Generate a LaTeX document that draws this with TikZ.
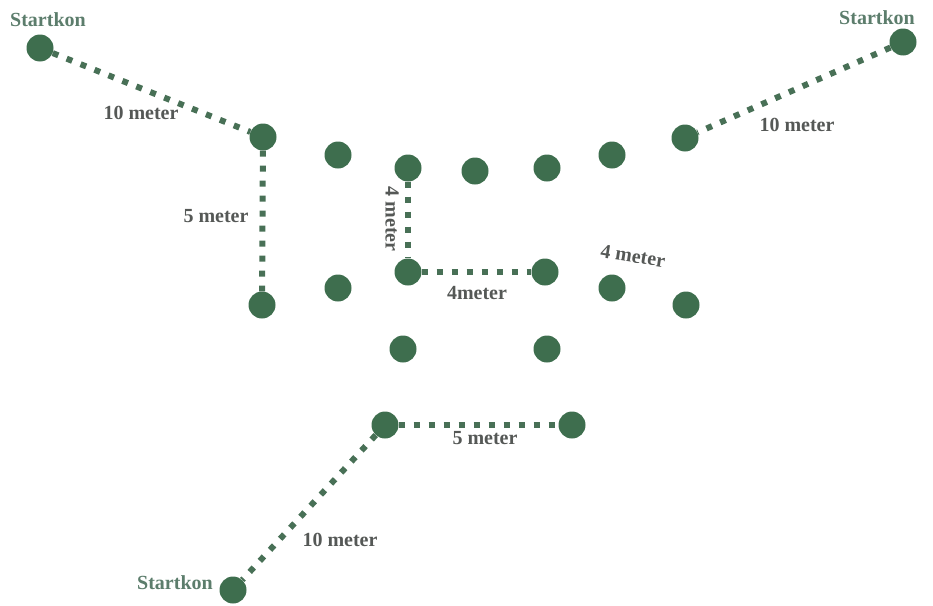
\documentclass[tikz,border=0pt]{standalone}
\usepackage{fontspec}
\setmainfont{Liberation Serif}
\definecolor{dotgreen}{RGB}{62,110,78}
\definecolor{linegreen}{RGB}{72,112,86}
\definecolor{labgray}{RGB}{85,88,86}
\definecolor{startgreen}{RGB}{92,125,108}
\begin{document}
\begin{tikzpicture}[x=1pt,y=-1pt,
  cone/.style={circle,fill=dotgreen,minimum size=27pt,inner sep=0pt},
  dotline/.style={draw=linegreen,line width=6pt,dash pattern=on 6pt off 9pt},
  lab/.style={font=\fontsize{20}{22}\selectfont\bfseries,text=labgray,inner sep=0pt},
  startlab/.style={font=\fontsize{20}{22}\selectfont\bfseries,text=startgreen,inner sep=0pt}]
\useasboundingbox (0,0) rectangle (933,605);
% start cones
\node[cone] (s1) at (40,48) {};
\node[cone] (s2) at (903,42) {};
\node[cone] (s3) at (233,590) {};
% upper row
\node[cone] (a) at (263,137) {};
\node[cone] (b) at (338,155) {};
\node[cone] (c) at (408,168) {};
\node[cone] (d) at (475,171) {};
\node[cone] (e) at (547,168) {};
\node[cone] (f) at (612,155) {};
\node[cone] (g) at (685,138) {};
% middle row
\node[cone] (h) at (262,305) {};
\node[cone] (i) at (338,288) {};
\node[cone] (j) at (408,272) {};
\node[cone] (k) at (545,272) {};
\node[cone] (l) at (612,288) {};
\node[cone] (m) at (686,305) {};
% lower
\node[cone] (n) at (403,349) {};
\node[cone] (o) at (547,349) {};
\node[cone] (p) at (385,425) {};
\node[cone] (q) at (572,425) {};
% connectors
\draw[dotline] (s1) -- (a);
\draw[dotline] (a) -- (h);
\draw[dotline] (s2) -- (g);
\draw[dotline] (c) -- (j);
\draw[dotline] (j) -- (k);
\draw[dotline] (p) -- (q);
\draw[dotline] (p) -- (s3);
% labels
\node[startlab] (t1) at (48,20) {Startkon};
\node[startlab] (t2) at (877,18) {Startkon};
\node[startlab] (t3) at (175,583) {Startkon};
\node[lab] (l1) at (141,113) {10 meter};
\node[lab] (l2) at (797,125) {10 meter};
\node[lab] (l3) at (216,216) {5 meter};
\node[lab,rotate=-90] (l4) at (392,219) {4 meter};
\node[lab] (l5) at (477,293) {4meter};
\node[lab,rotate=-9] (l6) at (633,256) {4 meter};
\node[lab] (l7) at (485,438) {5 meter};
\node[lab] (l8) at (340,540) {10 meter};
\end{tikzpicture}
\end{document}
